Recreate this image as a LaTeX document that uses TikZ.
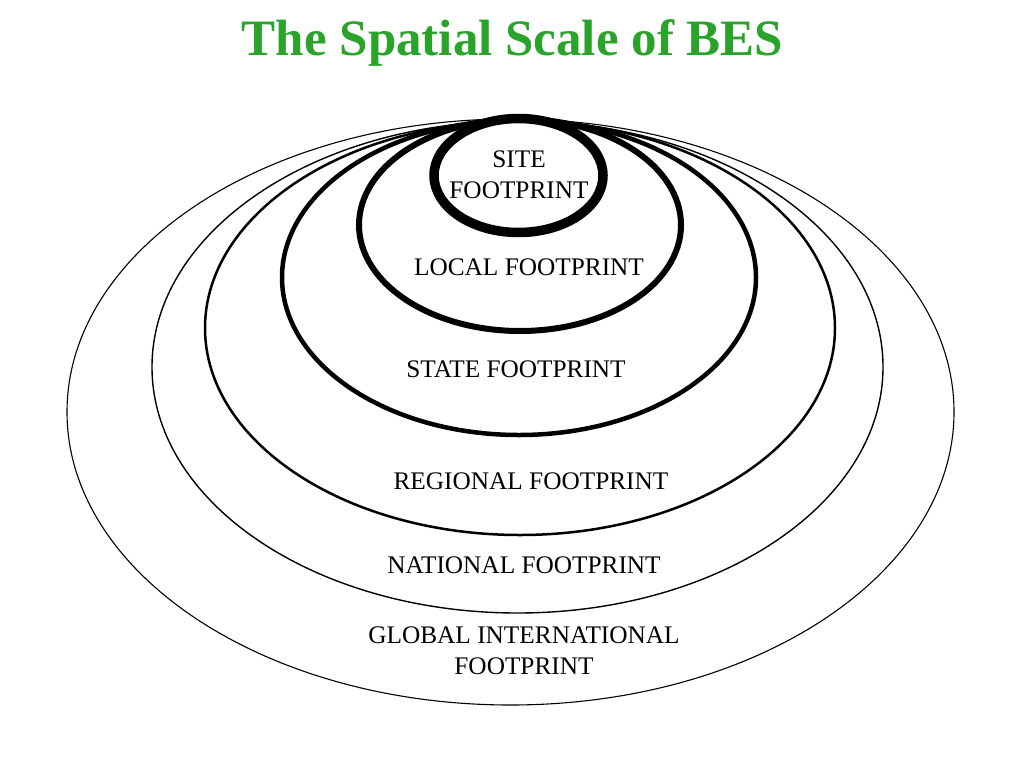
\documentclass[tikz,border=0pt]{standalone}
\usepackage{fontspec}
\setmainfont{Liberation Serif}
\definecolor{titlegreen}{RGB}{41,163,41}
\tikzset{
  ring/.style={draw=black},
  lbl/.style={font=\fontsize{25.3}{30.5}\selectfont, anchor=base, align=center, inner sep=0pt},
}
\begin{document}
\begin{tikzpicture}[x=1pt,y=-1pt]
\path[use as bounding box, fill=white] (0,0) rectangle (1024,768);
\node[font=\fontsize{51}{56}\selectfont\bfseries, text=titlegreen, anchor=base, inner sep=0pt] (title) at (512.5,56) {The Spatial Scale of BES};
% rings from outermost to innermost
\draw[ring, line width=1.1pt] (510.5,412) ellipse [x radius=443.5, y radius=293];
\draw[ring, line width=1.4pt] (517.5,367) ellipse [x radius=365.5, y radius=246];
\draw[ring, line width=2.5pt] (520,328) ellipse [x radius=315, y radius=207];
\draw[ring, line width=4.5pt] (519,277.5) ellipse [x radius=237, y radius=157.5];
\draw[ring, line width=6pt] (520,225) ellipse [x radius=161, y radius=106];
\draw[ring, line width=9.5pt] (518.5,175.5) ellipse [x radius=84.5, y radius=57];
% labels (base = baseline of last line)
\node[lbl] (site) at (519,198) {SITE\\FOOTPRINT};
\node[lbl] (local) at (529,275) {LOCAL FOOTPRINT};
\node[lbl] (state) at (516,377) {STATE FOOTPRINT};
\node[lbl] (regional) at (531,489) {REGIONAL FOOTPRINT};
\node[lbl] (national) at (524,573) {NATIONAL FOOTPRINT};
\node[lbl] (global) at (524,674) {GLOBAL INTERNATIONAL\\FOOTPRINT};
\end{tikzpicture}
\end{document}
